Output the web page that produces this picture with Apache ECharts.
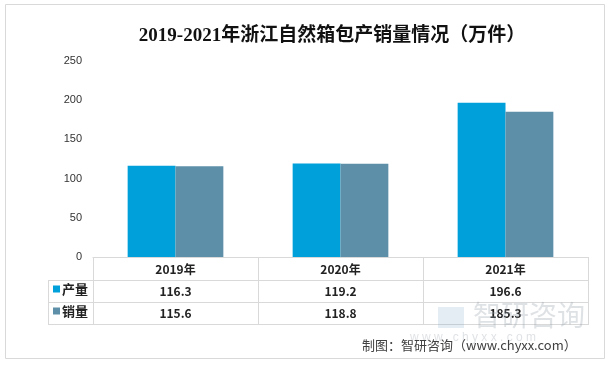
<!DOCTYPE html>
<html><head><meta charset="utf-8">
<script src="https://cdn.jsdelivr.net/npm/echarts@6/dist/echarts.min.js"></script>
<style>html,body{margin:0;padding:0;background:#fff}#c{width:609px;height:365px}</style>
</head><body><div id="c"></div>
<script>
var categories = ['2019年', '2020年', '2021年'];
var seriesNames = ['产量', '销量'];
var production = [116.3, 119.2, 196.6];
var sales = [115.6, 118.8, 185.3];
var yTicks = [0, 50, 100, 150, 200, 250];
var colors = ['#00a0da', '#5d8fa8'];

var chart = echarts.init(document.getElementById('c'), null, {renderer: 'canvas'});
var lineColor = '#d9d9d9';
function hl(x1, y, x2) { return {type: 'line', shape: {x1: x1, y1: y, x2: x2, y2: y}, style: {stroke: lineColor, lineWidth: 1}, silent: true}; }
function vl(x, y1, y2) { return {type: 'line', shape: {x1: x, y1: y1, x2: x, y2: y2}, style: {stroke: lineColor, lineWidth: 1}, silent: true}; }

chart.setOption({
  animation: false,
  title: {
    text: '2019-2021年浙江自然箱包产销量情况（万件）',
    left: 327, top: 22, textAlign: 'center',
    textStyle: {fontFamily: "'Liberation Serif', 'Noto Sans CJK SC'", fontSize: 19, fontWeight: 'bold', color: '#111'}
  },
  legend: {
    orient: 'vertical', left: 48, top: 281, itemGap: 6, padding: [0, 0, 0, 5],
    itemWidth: 7, itemHeight: 7, icon: 'rect',
    data: seriesNames,
    textStyle: {fontFamily: 'Noto Sans CJK SC', fontSize: 13, fontWeight: 'bold', color: '#222', lineHeight: 16, padding: [0, 0, 0, -3]}
  },
  grid: {left: 93, right: 21, top: 61, bottom: 108, containLabel: false},
  xAxis: {
    type: 'category', data: categories,
    axisLine: {show: true, lineStyle: {color: lineColor}},
    axisTick: {show: false},
    axisLabel: {
      margin: 1, interval: 0,
      formatter: function (v, i) {
        return '{h|' + v + '}\n{v|' + production[i].toFixed(1) + '}\n{v|' + sales[i].toFixed(1) + '}';
      },
      rich: {
        h: {fontFamily: 'Noto Sans CJK SC', fontSize: 12, fontWeight: 'bold', color: '#222', lineHeight: 22},
        v: {fontFamily: 'Noto Sans CJK SC', fontSize: 12, fontWeight: 'bold', color: '#222', lineHeight: 22}
      }
    }
  },
  yAxis: {
    type: 'value', min: yTicks[0], max: yTicks[yTicks.length - 1], interval: 50,
    axisLine: {show: false}, axisTick: {show: false}, splitLine: {show: false},
    axisLabel: {margin: 11, fontFamily: 'Liberation Sans', fontSize: 11, color: '#333'}
  },
  series: [
    {name: seriesNames[0], type: 'bar', data: production, itemStyle: {color: colors[0]}, barGap: '0%', barCategoryGap: '42%'},
    {name: seriesNames[1], type: 'bar', data: sales, itemStyle: {color: colors[1]}, barGap: '0%', barCategoryGap: '42%'}
  ],
  graphic: [
    {type: 'rect', shape: {x: 5.5, y: 4.5, width: 599, height: 354}, style: {fill: 'none', stroke: '#d9d9d9', lineWidth: 1}, silent: true},
    hl(48, 280.5, 588), hl(48, 302.5, 588), hl(48, 324.5, 588),
    vl(48.5, 280, 325), vl(93.5, 257, 325), vl(258.5, 257, 325), vl(423.5, 257, 325), vl(588.5, 257, 325),
    {type: 'text', left: 473, top: 301, style: {text: '智研咨询', fontFamily: 'Noto Sans CJK SC', fontSize: 28, fill: 'rgba(150,160,170,0.3)'}, silent: true, z: 100},
    {type: 'text', left: 410, top: 332, style: {text: 'w w w . c h y x x . c o m', fontFamily: 'Liberation Sans', fontSize: 12, fill: 'rgba(150,160,170,0.3)'}, silent: true, z: 100},
    {type: 'rect', shape: {x: 438, y: 307, width: 26, height: 21}, style: {fill: 'rgba(120,160,200,0.2)'}, silent: true, z: 100},
    {type: 'text', left: 362, top: 339, style: {text: '制图：智研咨询（www.chyxx.com）', fontFamily: 'Noto Sans CJK SC', fontSize: 13, fill: '#404040'}, silent: true, z: 101}
  ]
});
</script></body></html>
